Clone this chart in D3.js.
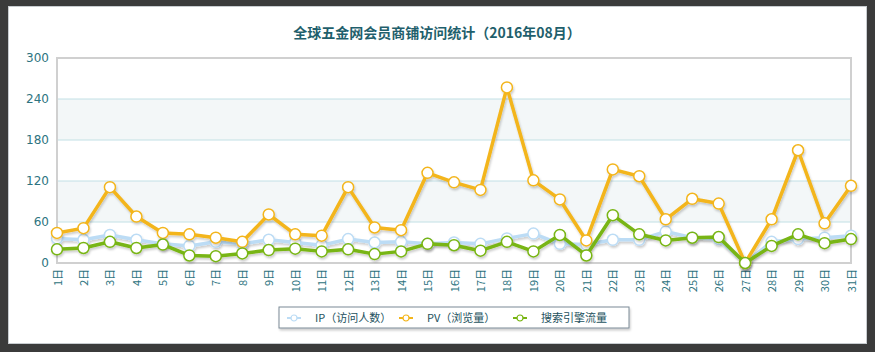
<!DOCTYPE html>
<html>
  <head>
    <meta charset="utf-8">
    <script src="https://cdn.jsdelivr.net/npm/d3@7/dist/d3.min.js"></script>
    <style>
      body { margin: 0; background: #3b3b3b; }
      svg { display: block; }
    </style>
  </head>
  <body>
    <svg id="chart" width="875" height="352"></svg>
    <script>
      var days = d3.range(1, 32).map(d => d + "日");
      var ipData = [36, 34, 41, 34, 28, 25, 31, 28, 34, 30, 26, 35, 30, 31, 28, 30, 28, 36, 43, 28,
                    27, 34, 34, 46, 37, 35, 0, 31, 35, 37, 40];
      var pvData = [44, 51, 111, 68, 44, 42, 37, 31, 71, 42, 40, 111, 52, 48, 132, 118, 107, 257, 121, 93,
                    33, 137, 127, 64, 94, 87, 0, 64, 165, 58, 113];
      var seData = [20, 22, 31, 22, 27, 11, 10, 14, 19, 21, 17, 20, 13, 17, 28, 26, 18, 31, 17, 41,
                    11, 70, 42, 33, 37, 38, 0, 25, 42, 29, 35];
      var yTicks = [0, 60, 120, 180, 240, 300];
      var seriesNames = ["IP（访问人数）", "PV（浏览量）", "搜索引擎流量"];
      var colors = ["#bcdcf5", "#f3b51b", "#78b512"];

      var svg = d3.select("#chart");
      var font = "'Noto Sans CJK SC', 'DejaVu Sans', sans-serif";
      var textColor = "#2d7380";

      // panel
      svg.append("rect").attr("x", 8.5).attr("y", 6.5).attr("width", 858).attr("height", 337)
        .attr("fill", "#fff").attr("stroke", "#c8ccd0");

      var defs = svg.append("defs");
      var f = defs.append("filter").attr("id", "shadow").attr("x", "-5%").attr("y", "-20%").attr("width", "110%").attr("height", "140%");
      f.append("feDropShadow").attr("dx", 1).attr("dy", 2).attr("stdDeviation", 1.2).attr("flood-color", "#000").attr("flood-opacity", 0.2);

      svg.append("text").attr("x", 437).attr("y", 38).attr("text-anchor", "middle")
        .attr("font-family", font).attr("font-size", 14).attr("font-weight", "bold")
        .attr("fill", "#1f5f6c").text("全球五金网会员商铺访问统计（2016年08月）");

      var mLeft = 57, mRight = 851, mTop = 58, mBottom = 263;
      var x = d3.scalePoint().domain(days).range([mLeft, mRight]);
      var y = d3.scaleLinear().domain([0, 300]).range([mBottom, mTop]);

      // bands
      var bandPairs = [[60, 120], [180, 240]];
      svg.append("g").selectAll("rect").data(bandPairs).enter().append("rect")
        .attr("x", mLeft).attr("width", mRight - mLeft)
        .attr("y", d => y(d[1])).attr("height", d => y(d[0]) - y(d[1]))
        .attr("fill", "#f3f7f8");

      svg.append("g").selectAll("line").data(yTicks.slice(1, -1)).enter().append("line")
        .attr("x1", mLeft).attr("x2", mRight).attr("y1", d => y(d)).attr("y2", d => y(d))
        .attr("stroke", "#c2e0e5").attr("stroke-width", 1);

      svg.append("rect").attr("x", mLeft).attr("y", mTop).attr("width", mRight - mLeft).attr("height", mBottom - mTop)
        .attr("fill", "none").attr("stroke", "#d0d0d0").attr("stroke-width", 2);

      // y axis
      var yAxis = d3.axisLeft(y).tickValues(yTicks).tickSize(0).tickPadding(6);
      var gy = svg.append("g").attr("transform", `translate(${mLeft - 2},0)`).call(yAxis);
      gy.select(".domain").remove();
      gy.selectAll("text").attr("font-family", "Verdana, 'DejaVu Sans', sans-serif").attr("font-size", 12).attr("fill", textColor);

      // x axis
      var xAxis = d3.axisBottom(x).tickSize(0).tickPadding(0);
      var gx = svg.append("g").attr("transform", `translate(0,${mBottom})`).call(xAxis);
      gx.select(".domain").remove();
      gx.selectAll("text")
        .attr("font-family", "'Noto Sans CJK SC', sans-serif").attr("font-size", 11).attr("fill", textColor)
        .attr("text-anchor", "end").attr("dy", 0).attr("y", 0)
        .attr("transform", "translate(4,6) rotate(-90)");

      var line = d3.line().x((d, i) => x(days[i])).y(d => y(d));
      var allData = [ipData, pvData, seData];

      allData.forEach(function(data, k) {
        var g = svg.append("g").attr("filter", "url(#shadow)");
        g.append("path").attr("d", line(data)).attr("fill", "none")
          .attr("stroke", colors[k]).attr("stroke-width", 3.5).attr("stroke-linejoin", "round");
        g.selectAll("circle").data(data).enter().append("circle")
          .attr("cx", (d, i) => x(days[i])).attr("cy", d => y(d)).attr("r", 5.5)
          .attr("fill", "#fff").attr("stroke", colors[k]).attr("stroke-width", 1.5);
      });

      // legend
      var lg = svg.append("g").attr("transform", "translate(279,307)");
      lg.append("rect").attr("width", 350).attr("height", 21).attr("fill", "#fff")
        .attr("stroke", "#7a8a95").attr("stroke-width", 1).attr("filter", "url(#shadow)");
      var itemX = [8, 120, 234];
      seriesNames.forEach(function(name, k) {
        var it = lg.append("g").attr("transform", `translate(${itemX[k]},11)`);
        it.append("line").attr("x1", 0).attr("x2", 14).attr("stroke", colors[k]).attr("stroke-width", 2);
        it.append("circle").attr("cx", 7).attr("r", 3).attr("fill", "#fff").attr("stroke", colors[k]).attr("stroke-width", 1.2);
        it.append("text").attr("x", 28).attr("y", 4).attr("font-family", font).attr("font-size", 11)
          .attr("fill", "#24525e").text(name);
      });
    </script>
  </body>
</html>
